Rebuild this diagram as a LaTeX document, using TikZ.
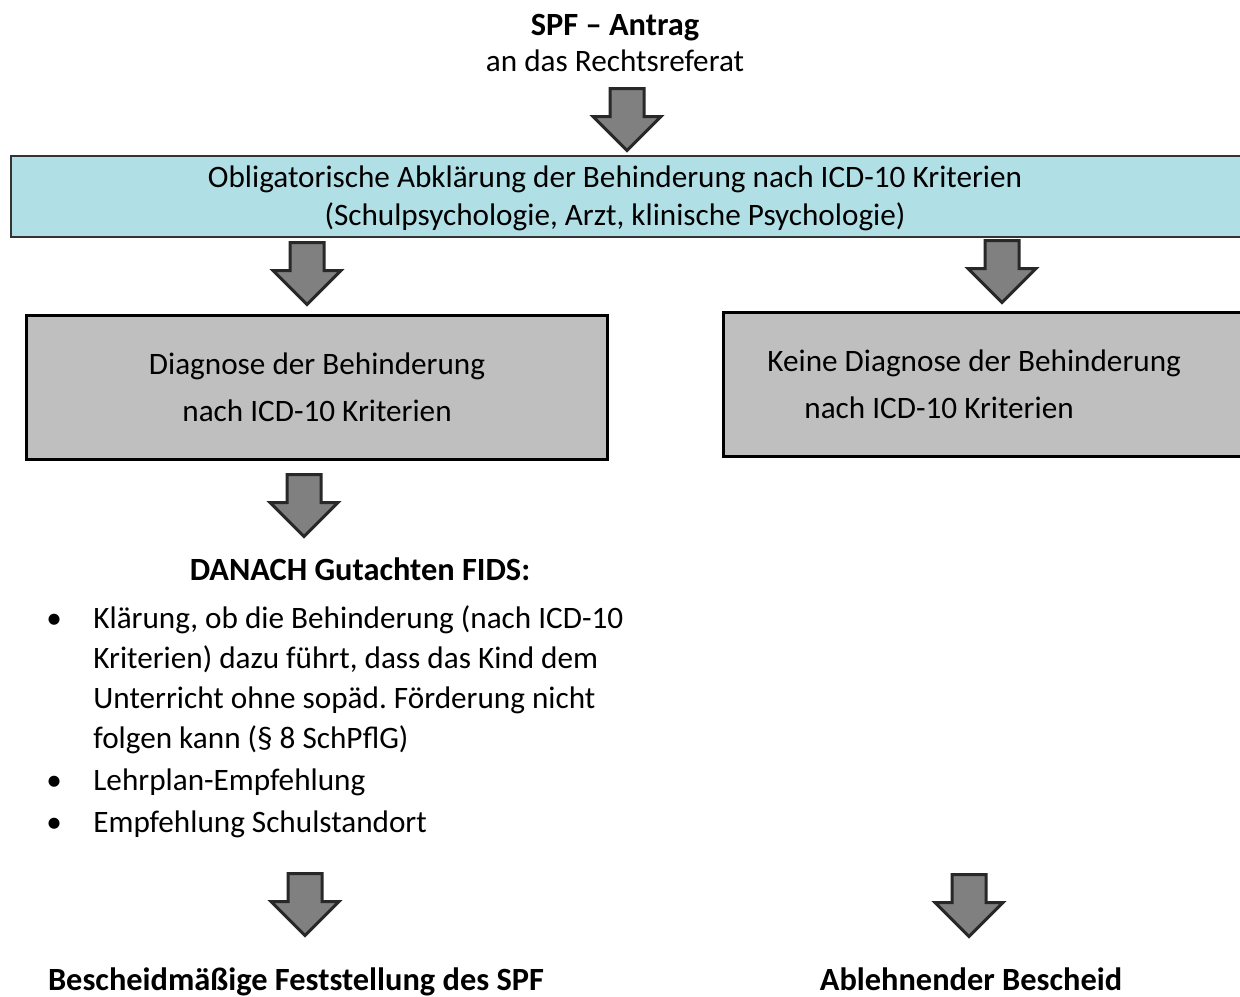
\documentclass[tikz,border=0pt]{standalone}
\usepackage{fontspec}
\setmainfont{Carlito}
\usetikzlibrary{shapes.arrows, positioning}
\frenchspacing

\definecolor{abklblue}{RGB}{176,223,229}
\definecolor{boxgray}{RGB}{191,191,191}
\definecolor{arrowfill}{RGB}{128,128,128}
\definecolor{arrowline}{RGB}{40,40,40}

\tikzset{
  txt/.style={font=\fontsize{15.6}{19}\selectfont, align=center, inner sep=0pt},
  boldtxt/.style={font=\fontsize{16.2}{19}\selectfont\bfseries, align=center, inner sep=0pt},
  bluebox/.style={draw=black!80, line width=1pt, fill=abklblue, anchor=north west, inner sep=0pt},
  graybox/.style={draw=black, line width=1.5pt, fill=boxgray, anchor=north west, inner sep=0pt},
  bigarrow/.style={single arrow, draw=arrowline, fill=arrowfill, line width=1.5pt,
    shape border rotate=270, minimum height=31pt, minimum width=33pt,
    single arrow head extend=8.5pt, inner sep=7.75pt}
}

\begin{document}
\begin{tikzpicture}[x=0.5pt, y=-0.5pt]
    \useasboundingbox (0,0) rectangle (1240,996);

    % Antrag
    \node (antrag) [txt, font=\fontsize{15.6}{18}\selectfont] at (615,43) {{\fontsize{16.2}{18}\selectfont\bfseries SPF – Antrag}\\an das Rechtsreferat};
    \node (arr1) [bigarrow] at (627,111) {};

    % Abklaerung
    \node (abklbox) [bluebox, minimum width=625pt, minimum height=40.5pt] at (10,155) {};
    \node (abkl) [txt] at (615,198) {Obligatorische Abklärung der Behinderung nach ICD-10 Kriterien\\(Schulpsychologie, Arzt, klinische Psychologie)};
    \node (arr2) [bigarrow] at (307,265) {};
    \node (arr3) [bigarrow] at (1002,263) {};

    % Diagnose ja / nein
    \node (diagbox) [graybox, minimum width=290.5pt, minimum height=72pt] at (25,314) {};
    \node (diag) [txt, font=\fontsize{15.6}{23.5}\selectfont] at (diagbox.center) {Diagnose der Behinderung\\nach ICD-10 Kriterien};
    \node (keinebox) [graybox, minimum width=270pt, minimum height=72pt] at (722,311) {};
    \node (keine) [txt, font=\fontsize{15.6}{23.5}\selectfont, align=left, anchor=west] at (767,384) {Keine Diagnose der Behinderung\\\hspace*{18.5pt}nach ICD-10 Kriterien};
    \node (arr4) [bigarrow] at (304,497) {};

    % Gutachten
    \node (fids) [boldtxt] at (360,569) {DANACH Gutachten FIDS:};
    \node (items) [txt, font=\fontsize{15.6}{20}\selectfont, align=left, anchor=north west] at (46,600) {%
      \begin{tabular}{@{}p{23.5pt}@{}l@{}}
        \textbullet & Klärung, ob die Behinderung (nach ICD-10\\
                    & Kriterien) dazu führt, dass das Kind dem\\
                    & Unterricht ohne sopäd. Förderung nicht\\
                    & folgen kann (§ 8 SchPflG)\\[1pt]
        \textbullet & Lehrplan-Empfehlung\\[1pt]
        \textbullet & Empfehlung Schulstandort
      \end{tabular}};
    \node (arr5) [bigarrow] at (305,896) {};
    \node (arr6) [bigarrow] at (969,897) {};

    % Bescheide
    \node (spf) [boldtxt, anchor=base] at (296,990) {Bescheidmäßige Feststellung des SPF};
    \node (ablehn) [boldtxt, anchor=base] at (971,990) {Ablehnender Bescheid};
\end{tikzpicture}
\end{document}
